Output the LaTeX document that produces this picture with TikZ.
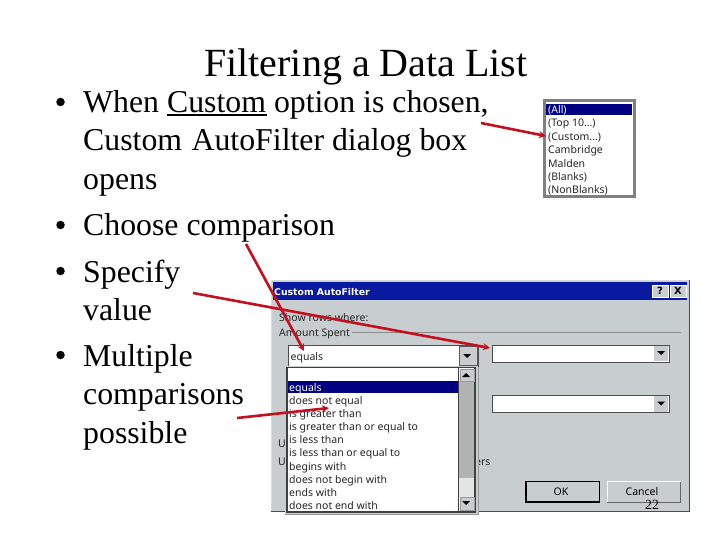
\documentclass[tikz,border=0pt]{standalone}
\usepackage{fontspec}
\setmainfont{Liberation Serif}
\newfontfamily\uifont{Noto Sans}
\newfontfamily\uibold{DejaVu Sans Bold}
\usetikzlibrary{arrows.meta}
\definecolor{wingray}{HTML}{C8CDD0}
\definecolor{winblue}{HTML}{0A1AA0}
\definecolor{navyb}{HTML}{000080}
\definecolor{redarrow}{HTML}{C4101E}
\tikzset{
  x=1pt,y=-1pt,
  titletext/.style={anchor=base west,inner sep=0,font=\fontsize{40}{40}\selectfont},
  bodytext/.style={anchor=base west,inner sep=0,font=\fontsize{31.8}{32}\selectfont},
  bulletdot/.style={circle,fill=black,draw=none,inner sep=0,minimum size=8.5pt},
  uitext/.style={anchor=base west,inner sep=0,font=\uifont\fontsize{10.5}{11}\selectfont,text=black!85},
  boldui/.style={anchor=base west,inner sep=0,font=\uibold\fontsize{9.3}{11}\selectfont,text=white},
  redline/.style={draw=redarrow,line width=2.6pt,-{Stealth[length=7pt,width=7pt]}},
  whitebox/.style={fill=white,draw=black!70,line width=1pt},
  graybtn/.style={fill=wingray,draw=black!65,line width=.8pt},
  tri/.style={fill=black,draw=none}
}
\newcommand{\ddarrow}[2]{\fill[tri] (#1-4,#2-2) -- (#1+4,#2-2) -- (#1,#2+2) -- cycle;}
\begin{document}
\begin{tikzpicture}
\useasboundingbox (0,0) rectangle (720,540);
\fill[white] (0,0) rectangle (720,540);
% title and body
\node[titletext] (title) at (204,76.5) {Filtering a Data List};
\node[bulletdot] (b1) at (60.5,102) {};
\node[bodytext] (l1) at (83,113) {When Custom option is chosen,};
\node[bodytext] (l2) at (83,151) {Custom\hspace{9.5pt}AutoFilter dialog box};
\node[bodytext] (l3) at (83,190) {opens};
\node[bulletdot] (b2) at (60.5,225) {};
\node[bodytext] (l4) at (83,236) {Choose comparison};
\node[bulletdot] (b3) at (60.5,271) {};
\node[bodytext] (l5) at (83,282) {Specify};
\node[bodytext] (l6) at (83,320) {value};
\node[bulletdot] (b4) at (60.5,355) {};
\node[bodytext] (l7) at (83,366) {Multiple};
\node[bodytext] (l8) at (83,404) {comparisons};
\node[bodytext] (l9) at (83,443) {possible};
\draw[black,line width=2.2pt] (167,115) -- (267,115);
% small filter list
\fill[white,draw=black!50,line width=3pt] (544,100.5) rectangle (634,196.5);
\fill[navyb] (546,104) rectangle (632,115.5);
\node[uitext,text=white] (f1) at (548,114) {(All)};
\node[uitext] (f2) at (548,127) {(Top 10...)};
\node[uitext] (f3) at (548,141) {(Custom...)};
\node[uitext] (f4) at (548,154) {Cambridge};
\node[uitext] (f5) at (548,168) {Malden};
\node[uitext] (f6) at (548,181) {(Blanks)};
\node[uitext] (f7) at (548,194) {(NonBlanks)};
% dialog
\fill[wingray] (271,280) rectangle (689,511);
\draw[black!70,line width=1pt] (689,280) -- (689,511) -- (271,511);
\draw[black!15,line width=1pt] (271,511) -- (271,280) -- (689,280);
\fill[winblue] (273,282) rectangle (687,300);
\node[boldui] (dt) at (274,295) {Custom AutoFilter};
\fill[wingray,draw=white,line width=.7pt] (652,285) rectangle (668,297);
\node[anchor=center,inner sep=0,font=\uibold\fontsize{10}{10}\selectfont] (qm) at (660,291) {?};
\fill[wingray,draw=white,line width=.7pt] (670,285) rectangle (686,297);
\node[anchor=center,inner sep=0,font=\uibold\fontsize{10}{10}\selectfont] (xm) at (678,291) {X};
\node[uitext] (s1) at (279,321) {Show rows where:};
\node[uitext] (s2) at (279,336) {Amount Spent};
\draw[black!45,line width=.8pt] (352,332.5) -- (681,332.5);
% combos
\draw[whitebox] (288.5,345) rectangle (478,366);
\fill[graybtn] (459,346) rectangle (477,365);
\ddarrow{467}{356}
\node[uitext] (eq) at (290.5,360) {equals};
\draw[whitebox] (492,345) rectangle (669,362);
\fill[graybtn,draw=none] (654,346) rectangle (668,361);
\ddarrow{661}{353}
\draw[whitebox] (492,395.5) rectangle (669,412.5);
\fill[graybtn,draw=none] (654,396) rectangle (668,412);
\ddarrow{661}{403.5}
% buttons
\draw[fill=wingray,draw=black,line width=1.2pt] (526,481.5) rectangle (599.5,502);
\node[anchor=center,inner sep=0,font=\uifont\fontsize{10.5}{11}\selectfont] (ok) at (561,491.5) {OK};
\draw[fill=wingray,draw=black!60,line width=.7pt] (607,481.5) rectangle (680.5,502);
\draw[white,line width=.8pt] (607,502) -- (607,481.5) -- (680.5,481.5);
\node[anchor=center,inner sep=0,font=\uifont\fontsize{10.5}{11}\selectfont] (cc) at (642,491.5) {Cancel};
\node[uitext] (u1) at (278,447) {Us};
\node[uitext] (u2) at (278,465) {Us};
\node[uitext] (u3) at (475,465) {ers};
% dropdown list
\fill[wingray] (285,366) rectangle (478,515);
\draw[fill=white,draw=black!75,line width=1.2pt] (287,367.5) rectangle (475,512);
\draw[black!40,line width=.8pt] (284.5,514.5) -- (478,514.5) -- (478,367);
\fill[navyb] (288,381) rectangle (458,393);
\foreach \nm/\yy/\tx in {i2/404/does not equal,i3/417/is greater than,i4/430/is greater than or equal to,i5/443/is less than,i6/456/is less than or equal to,i7/470/begins with,i8/483/does not begin with,i9/496/ends with,i10/509/does not end with}{
  \node[uitext] (\nm) at (289,\yy) {\tx};
}
\node[uitext,text=white] (i1) at (289,391) {equals};
% scrollbar
\fill[black!30] (459,381) rectangle (474,478);
\fill[black!10] (459,478) rectangle (474,497);
\fill[wingray,draw=black!40,line width=.5pt] (460,369) rectangle (474,381);
\fill[tri] (466,373) -- (470,377) -- (462,377) -- cycle;
\fill[wingray,draw=black!40,line width=.5pt] (460,497) rectangle (474,510);
\fill[tri] (462,501) -- (470,501) -- (466,505) -- cycle;
\draw[black!75,line width=1pt] (458.5,368) -- (458.5,511);
% page number
\node[anchor=base west,inner sep=0,font=\fontsize{14}{14}\selectfont] (pg) at (645,509.5) {22};
% arrows
\coordinate (a1s) at (481,123);
\coordinate (a1e) at (546,136);
\coordinate (a2s) at (193,293);
\coordinate (a2e) at (490,348);
\coordinate (a3s) at (246,244);
\coordinate (a3e) at (304,351);
\coordinate (a4s) at (237,418);
\coordinate (a4e) at (329,408);
\draw[redline] (a1s) -- (a1e);
\draw[redline] (a2s) -- (a2e);
\draw[redline] (a3s) -- (a3e);
\draw[redline] (a4s) -- (a4e);
\end{tikzpicture}
\end{document}
